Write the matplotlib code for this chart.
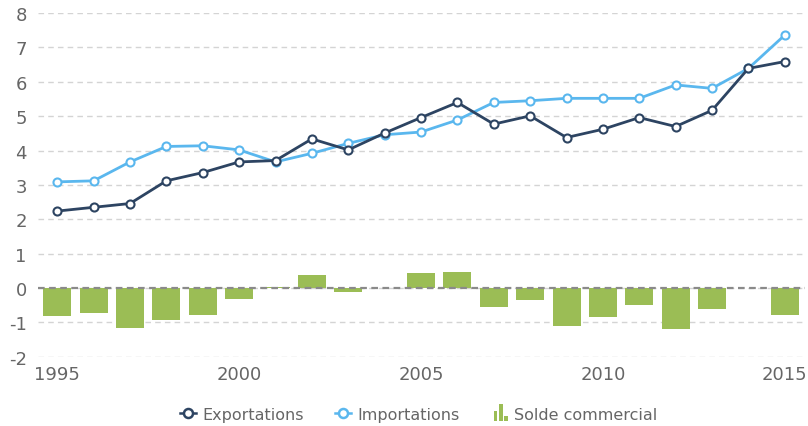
import numpy as np
import matplotlib.pyplot as plt
from matplotlib.legend_handler import HandlerBase
from matplotlib.patches import Rectangle
from matplotlib.lines import Line2D

years = list(range(1995, 2016))
exportations = [2.24, 2.35, 2.46, 3.12, 3.36, 3.67, 3.71, 4.34, 4.02, 4.51, 4.96,
                5.40, 4.77, 5.01, 4.38, 4.62, 4.96, 4.70, 5.17, 6.39, 6.59]
importations = [3.09, 3.12, 3.67, 4.12, 4.14, 4.02, 3.67, 3.92, 4.21, 4.46, 4.54,
                4.89, 5.40, 5.45, 5.52, 5.52, 5.52, 5.91, 5.81, 6.39, 7.36]
solde = [-0.81, -0.72, -1.15, -0.92, -0.77, -0.31, 0.04, 0.39, -0.10, 0.0, 0.43,
         0.47, -0.56, -0.36, -1.10, -0.83, -0.49, -1.19, -0.60, 0.0, -0.77]

c_exp = '#2d4462'
c_imp = '#5ab7ee'
c_bar = '#9bbd55'
c_txt = '#666666'

plt.rcParams['axes.unicode_minus'] = False


class BarIcon(HandlerBase):
    # little "ıl," bar glyph like the original legend
    def create_artists(self, legend, orig, xd, yd, w, h, fontsize, trans):
        bw = w * 0.24
        arts = []
        for i, frac in enumerate([0.62, 1.0, 0.3]):
            r = Rectangle((xd + w * 0.1 + i * bw * 1.4, yd - h * 0.25), bw, h * 1.55 * frac,
                          facecolor=c_bar, edgecolor='none', transform=trans)
            arts.append(r)
        return arts


fig = plt.figure(figsize=(8.08, 4.27), dpi=100)
ax = fig.add_axes([0.047, 0.162, 0.949, 0.805])

ax.bar(years, solde, width=0.77, color=c_bar, zorder=2)
ax.axhline(0, color='#8a8a8a', lw=1.6, ls=(0, (3, 2)), zorder=3)
ax.plot(years, exportations, color=c_exp, lw=2, marker='o', ms=5.8, mfc='white',
        mec=c_exp, mew=1.5, zorder=5, clip_on=False)
ax.plot(years, importations, color=c_imp, lw=2, marker='o', ms=5.8, mfc='white',
        mec=c_imp, mew=1.5, zorder=4, clip_on=False)

ax.set_xlim(1994.47, 2015.55)
ax.set_ylim(-2, 8)
ax.set_yticks(range(-2, 9))
ax.set_xticks([1995, 2000, 2005, 2010, 2015])
ax.grid(axis='y', color='#d4d4d4', lw=1, ls=(0, (4, 3)), zorder=0)
ax.set_axisbelow(True)
for s in ax.spines.values():
    s.set_visible(False)
ax.tick_params(length=0, labelsize=13, colors=c_txt)
ax.tick_params(axis='y', pad=8)
ax.tick_params(axis='x', pad=6)

h_exp = Line2D([], [], color=c_exp, lw=1.8, marker='o', ms=6.5, mfc='white', mec=c_exp, mew=1.8)
h_imp = Line2D([], [], color=c_imp, lw=1.8, marker='o', ms=6.5, mfc='white', mec=c_imp, mew=1.8)
h_bar = Rectangle((0, 0), 1, 1)
fig.legend([h_exp, h_imp, h_bar], ['Exportations', 'Importations', 'Solde commercial'],
           handler_map={h_bar: BarIcon()}, loc='center', bbox_to_anchor=(0.518, 0.028),
           ncol=3, frameon=False, fontsize=11.5, labelcolor=c_txt, handlelength=1.0,
           handletextpad=0.4, columnspacing=2.0)

fig.savefig('out.png', dpi=100)
